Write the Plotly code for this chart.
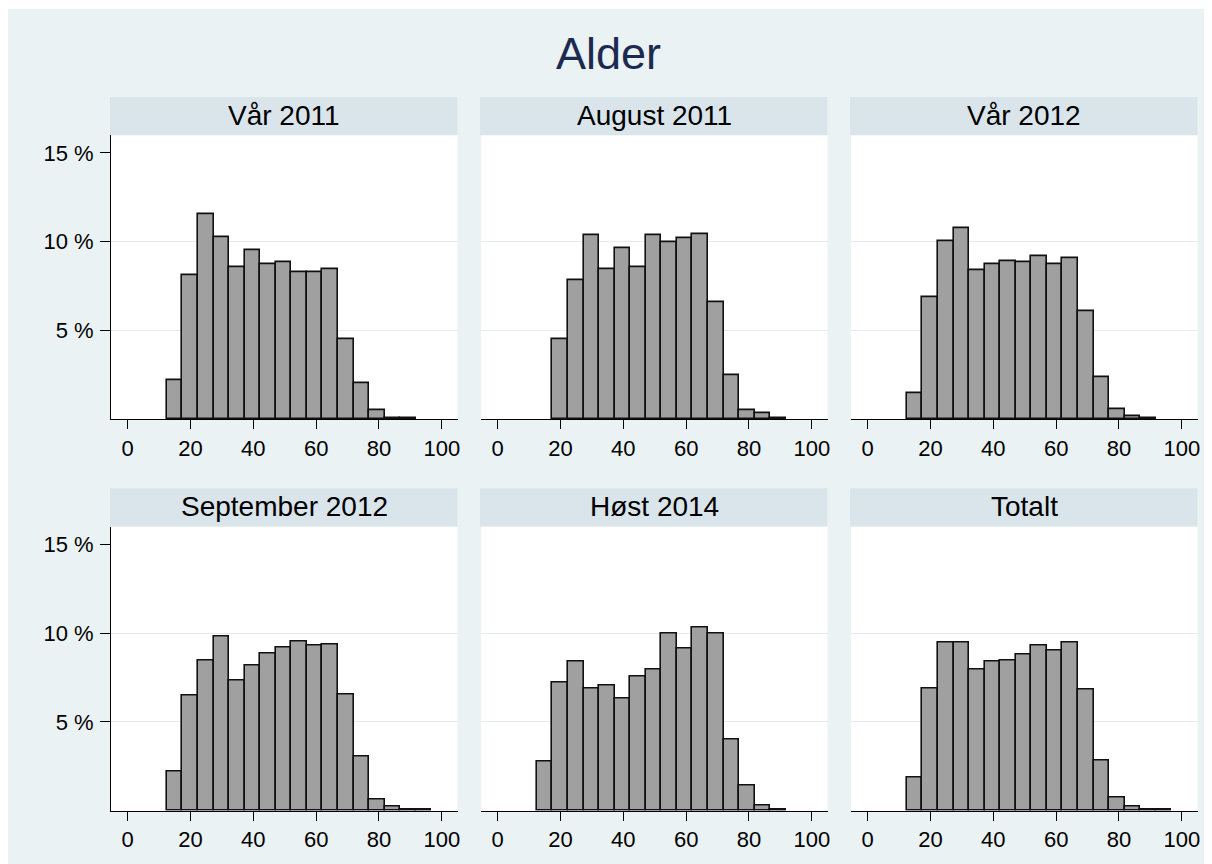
import plotly.graph_objects as go

# page is rendered with an 8px body margin; the figure is sized to fit
OFF = 8
W, H = 1212 - OFF, 864 - OFF

# ---- data (percent of respondents per age bin) ----
panel_titles = ["Vår 2011", "August 2011", "Vår 2012",
                "September 2012", "Høst 2014", "Totalt"]
bin_start = 12.5
bin_width = 4.95

# first bin index for each panel
first_bin = [0, 1, 0, 0, 0, 0]

vaar_2011 = [2.21, 8.13, 11.56, 10.27, 8.56, 9.52, 8.73, 8.84, 8.31, 8.31,
             8.48, 4.52, 2.06, 0.51, 0.06, 0.06]
august_2011 = [4.52, 7.81, 10.38, 8.48, 9.61, 8.56, 10.38, 9.95, 10.19,
               10.45, 6.59, 2.48, 0.51, 0.32, 0.08]
vaar_2012 = [1.46, 6.85, 10.02, 10.79, 8.41, 8.75, 8.92, 8.84, 9.18, 8.75,
             9.08, 6.08, 2.38, 0.58, 0.15, 0.08]
september_2012 = [2.18, 6.47, 8.46, 9.81, 7.34, 8.18, 8.87, 9.21, 9.55, 9.29,
                  9.38, 6.55, 3.04, 0.64, 0.21, 0.06, 0.06]
hoest_2014 = [2.78, 7.24, 8.37, 6.90, 7.07, 6.30, 7.58, 7.94, 10.00, 9.14,
              10.32, 10.00, 3.98, 1.41, 0.28, 0.06]
totalt = [1.84, 6.90, 9.49, 9.49, 7.94, 8.37, 8.46, 8.80, 9.31, 8.99, 9.49,
          6.83, 2.80, 0.71, 0.21, 0.06, 0.06]

series = [vaar_2011, august_2011, vaar_2012, september_2012, hoest_2014, totalt]

x_ticks = [0, 20, 40, 60, 80, 100]
y_ticks = [5, 10, 15]
y_tick_labels = ["5 %", "10 %", "15 %"]
y_grid = [5, 10]

# ---- styling / layout (page pixels) ----
BG = "#EAF2F3"
STRIP = "#D9E5EA"
GRID = "#E3EDEF"
BAR = "#A0A0A0"
FONT = "Liberation Sans, Arial, sans-serif"

col_x0 = [111, 481, 851]
panel_w = 346.5
row_top = [135.2, 526.6]
row_bot = [419.3, 810.7]
strip_h = 38.3


def px(x):
    return (x - OFF) / W


def py(y):
    return 1 - (y - OFF) / H


fig = go.Figure()
layout = dict(
    width=W, height=H,
    margin=dict(l=0, r=0, t=0, b=0, pad=0),
    paper_bgcolor="white", plot_bgcolor="white",
    showlegend=False, bargap=0,
    font=dict(family=FONT, color="black"),
)

shapes = [dict(type="rect", xref="paper", yref="paper",
               x0=0, x1=1, y0=0, y1=py(9),
               fillcolor=BG, line=dict(width=0), layer="below")]
annotations = [dict(text="Alder", x=px(608), y=py(53), xref="paper",
                    yref="paper", showarrow=False, xanchor="center",
                    yanchor="middle",
                    font=dict(size=45, color="#1B2A50", family=FONT))]

for i, vals in enumerate(series):
    r, c = divmod(i, 3)
    n = i + 1
    xa = "x" if n == 1 else f"x{n}"
    ya = "y" if n == 1 else f"y{n}"
    x0 = col_x0[c]
    x1 = x0 + panel_w
    top, bot = row_top[r], row_bot[r]

    centers = [bin_start + bin_width * (first_bin[i] + k + 0.5)
               for k in range(len(vals))]
    fig.add_trace(go.Bar(
        x=centers, y=vals, width=bin_width, xaxis=xa, yaxis=ya,
        marker=dict(color=BAR, line=dict(color="#111111", width=1.6)),
        hoverinfo="skip"))

    layout[f"xaxis{'' if n == 1 else n}"] = dict(
        domain=[px(x0), px(x1)], anchor=ya, range=[-5.3, 105.0],
        tickvals=x_ticks, ticks="outside", ticklen=9, tickwidth=1,
        tickcolor="black", showline=True, linecolor="black", linewidth=1,
        showgrid=False, zeroline=False, fixedrange=True,
        tickfont=dict(size=22, color="black", family=FONT),
        automargin=False)
    layout[f"yaxis{'' if n == 1 else n}"] = dict(
        domain=[py(bot), py(top)], anchor=xa, range=[0, 16],
        tickvals=y_ticks, ticktext=y_tick_labels,
        ticks="outside" if c == 0 else "", ticklen=10, tickwidth=1,
        tickcolor="black", showticklabels=(c == 0),
        showline=(c == 0), linecolor="black", linewidth=1,
        showgrid=False, zeroline=False,
        minor=dict(tickvals=y_grid, showgrid=True, gridcolor=GRID,
                   gridwidth=1, ticks=""),
        fixedrange=True, ticklabelstandoff=2,
        tickfont=dict(size=22, color="black", family=FONT),
        automargin=False)

    # white plot region
    shapes.append(dict(type="rect", xref="paper", yref="paper",
                       x0=px(x0), x1=px(x1), y0=py(bot), y1=py(top),
                       fillcolor="white", line=dict(width=0), layer="below"))
    # strip
    shapes.append(dict(type="rect", xref="paper", yref="paper",
                       x0=px(x0 - 1), x1=px(x1), y0=py(top),
                       y1=py(top - strip_h),
                       fillcolor=STRIP, line=dict(width=0), layer="below"))
    annotations.append(dict(text=panel_titles[i], x=px((x0 + x1) / 2),
                            y=py(top - strip_h / 2 - 1), xref="paper",
                            yref="paper", showarrow=False, xanchor="center",
                            yanchor="middle",
                            font=dict(size=28, color="black", family=FONT)))

layout["shapes"] = shapes
layout["annotations"] = annotations
fig.update_layout(**layout)
fig.write_html("out.html")
